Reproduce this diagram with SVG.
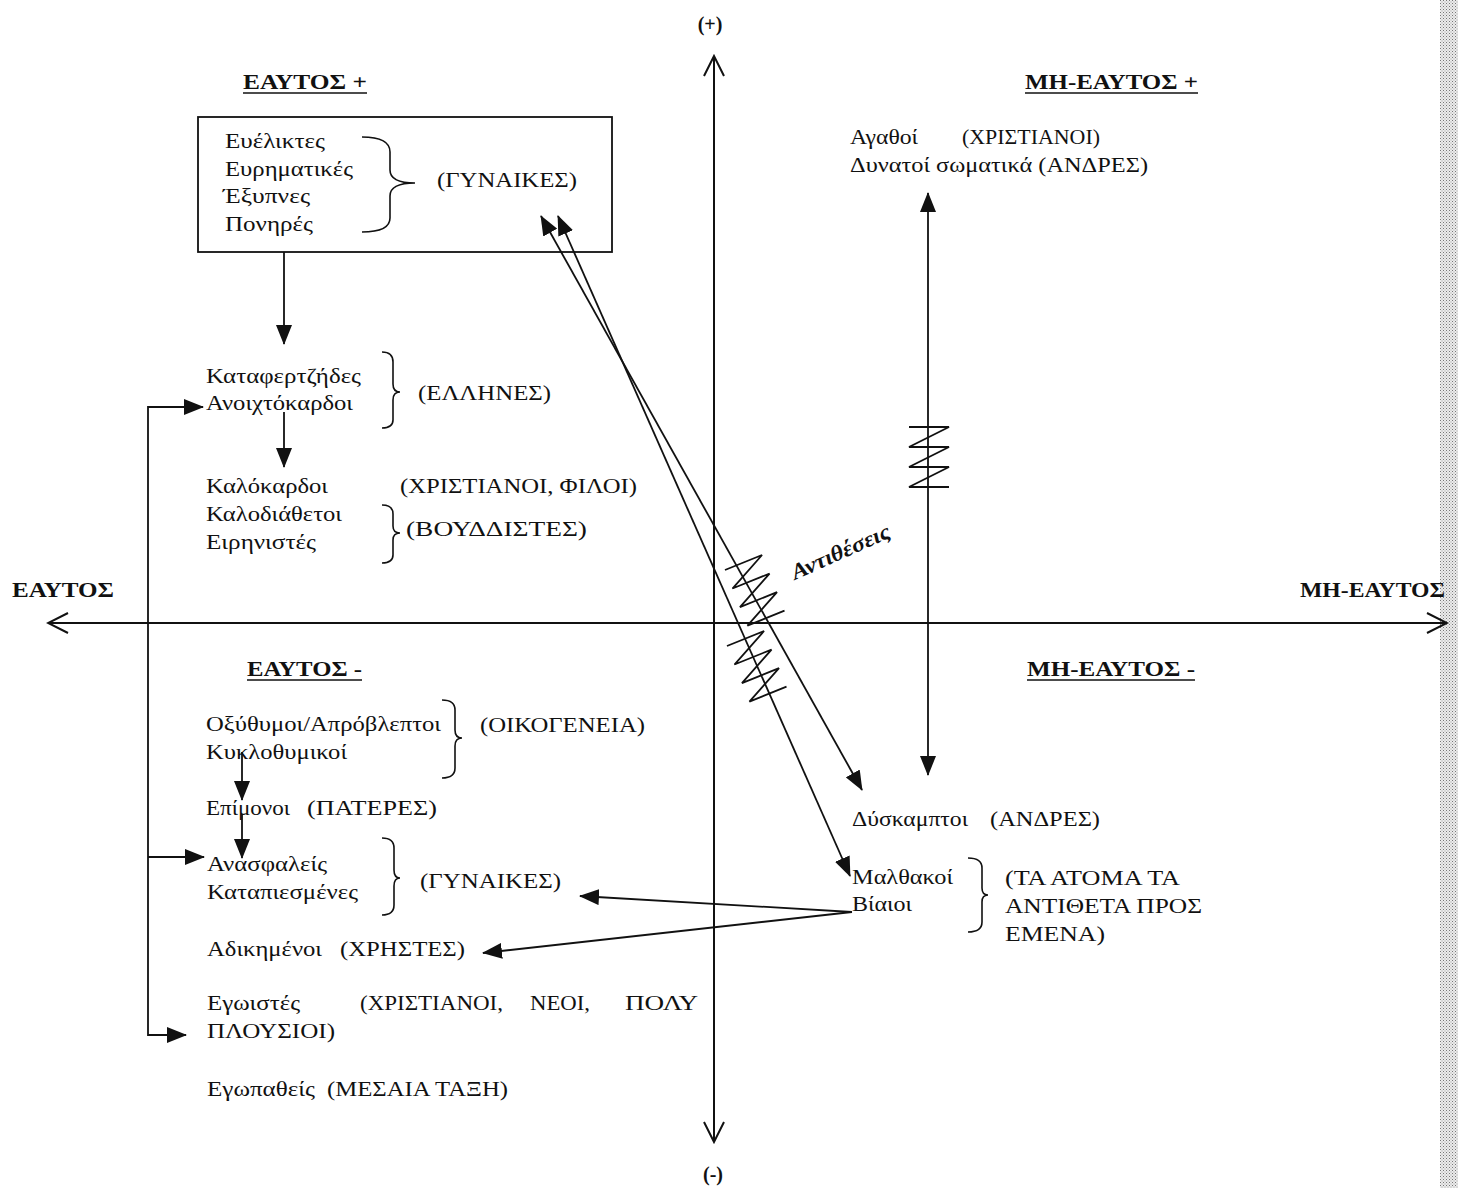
<svg xmlns="http://www.w3.org/2000/svg" width="1458" height="1188" viewBox="0 0 1458 1188">
<style>
.t{font-family:"Liberation Serif","Times New Roman",serif;font-size:20px;fill:#111;}
.b{font-family:"Liberation Serif","Times New Roman",serif;font-size:20px;font-weight:bold;fill:#111;}
.ln{stroke:#111;stroke-width:1.8;fill:none;}
.ax{stroke:#111;stroke-width:2;fill:none;}
.br{stroke:#111;stroke-width:1.6;fill:none;}
.ul{stroke:#111;stroke-width:1.6;}
</style>
<defs>
<marker id="ah" viewBox="0 0 20 16" refX="19" refY="8" markerWidth="20" markerHeight="16" markerUnits="userSpaceOnUse" orient="auto-start-reverse">
<path d="M0,0 L20,8 L0,16 z" fill="#111"/>
</marker>
<marker id="oa" viewBox="0 0 24 24" refX="22" refY="12" markerWidth="24" markerHeight="24" markerUnits="userSpaceOnUse" orient="auto-start-reverse">
<path d="M2,2 L22,12 L2,22" fill="none" stroke="#111" stroke-width="2"/>
</marker>
<pattern id="stip" width="3" height="3" patternUnits="userSpaceOnUse">
<rect x="0" y="0" width="1" height="1" fill="#777"/>
<rect x="1.5" y="1.5" width="1" height="1" fill="#999"/>
</pattern>
<path id="spring" d="M-20,0 H20 L-20,20 H20 L-20,40 H20 L-20,60 H20"/>
</defs>
<rect width="1458" height="1188" fill="#fff"/>
<rect x="1440" y="0" width="18" height="1188" fill="#ececec"/>
<rect x="1440" y="0" width="18" height="1188" fill="url(#stip)"/>

<g id="axes">
<line class="ax" x1="714" y1="1142" x2="714" y2="56" marker-end="url(#oa)" marker-start="url(#oa)"/>
<line class="ax" x1="48" y1="623" x2="1447" y2="623" marker-end="url(#oa)" marker-start="url(#oa)"/>
<text class="b" x="710" y="31" text-anchor="middle">(+)</text>
<text class="b" x="713" y="1181" text-anchor="middle">(-)</text>
<text class="b" x="12" y="597" textLength="102" lengthAdjust="spacingAndGlyphs">ΕΑΥΤΟΣ</text>
<text class="b" x="1300" y="597" textLength="145" lengthAdjust="spacingAndGlyphs">ΜΗ-ΕΑΥΤΟΣ</text>
</g>

<g id="headings">
<text class="b" x="243" y="89" textLength="124" lengthAdjust="spacingAndGlyphs">ΕΑΥΤΟΣ +</text>
<line class="ul" x1="243" y1="93" x2="367" y2="93"/>
<text class="b" x="1025" y="89" textLength="173" lengthAdjust="spacingAndGlyphs">ΜΗ-ΕΑΥΤΟΣ +</text>
<line class="ul" x1="1025" y1="93" x2="1198" y2="93"/>
<text class="b" x="247" y="676" textLength="115" lengthAdjust="spacingAndGlyphs">ΕΑΥΤΟΣ -</text>
<line class="ul" x1="247" y1="680" x2="362" y2="680"/>
<text class="b" x="1027" y="676" textLength="168" lengthAdjust="spacingAndGlyphs">ΜΗ-ΕΑΥΤΟΣ -</text>
<line class="ul" x1="1027" y1="680" x2="1195" y2="680"/>
</g>

<g id="node-box">
<rect x="198" y="117" width="414" height="135" fill="none" stroke="#111" stroke-width="1.8"/>
<text class="t" x="225" y="148" textLength="100" lengthAdjust="spacingAndGlyphs">Ευέλικτες</text>
<text class="t" x="225" y="176" textLength="128" lengthAdjust="spacingAndGlyphs">Ευρηματικές</text>
<text class="t" x="223" y="203" textLength="87" lengthAdjust="spacingAndGlyphs">Έξυπνες</text>
<text class="t" x="225" y="231" textLength="88" lengthAdjust="spacingAndGlyphs">Πονηρές</text>
<path class="br" d="M362,137 Q390,137 390,152 L390,170 Q390,183 415,183 Q390,183 390,196 L390,218 Q390,232 362,232"/>
<text class="t" x="437" y="187" textLength="140" lengthAdjust="spacingAndGlyphs">(ΓΥΝΑΙΚΕΣ)</text>
</g>

<g id="node-ellines">
<text class="t" x="206" y="383" textLength="155" lengthAdjust="spacingAndGlyphs">Καταφερτζήδες</text>
<text class="t" x="206" y="410" textLength="147" lengthAdjust="spacingAndGlyphs">Ανοιχτόκαρδοι</text>
<path class="br" d="M382,352 Q393,352 393,362 L393,384 Q393,392 400,392 Q393,392 393,400 L393,420 Q393,428 382,428"/>
<text class="t" x="418" y="400" textLength="133" lengthAdjust="spacingAndGlyphs">(ΕΛΛΗΝΕΣ)</text>
</g>

<g id="node-kalokardoi">
<text class="t" x="206" y="493" textLength="122" lengthAdjust="spacingAndGlyphs">Καλόκαρδοι</text>
<text class="t" x="400" y="493" textLength="237" lengthAdjust="spacingAndGlyphs">(ΧΡΙΣΤΙΑΝΟΙ, ΦΙΛΟΙ)</text>
<text class="t" x="206" y="521" textLength="136" lengthAdjust="spacingAndGlyphs">Καλοδιάθετοι</text>
<text class="t" x="206" y="549" textLength="110" lengthAdjust="spacingAndGlyphs">Ειρηνιστές</text>
<path class="br" d="M382,505 Q393,505 393,514 L393,526 Q393,533 400,533 Q393,533 393,540 L393,555 Q393,563 382,563"/>
<text class="t" x="406" y="536" textLength="181" lengthAdjust="spacingAndGlyphs">(ΒΟΥΔΔΙΣΤΕΣ)</text>
</g>

<g id="node-oikogeneia">
<text class="t" x="206" y="731" textLength="235" lengthAdjust="spacingAndGlyphs">Οξύθυμοι/Απρόβλεπτοι</text>
<text class="t" x="206" y="759" textLength="141" lengthAdjust="spacingAndGlyphs">Κυκλοθυμικοί</text>
<path class="br" d="M442,700 Q455,700 455,710 L455,730 Q455,738 462,738 Q455,738 455,746 L455,768 Q455,778 442,778"/>
<text class="t" x="480" y="732" textLength="165" lengthAdjust="spacingAndGlyphs">(ΟΙΚΟΓΕΝΕΙΑ)</text>
</g>

<g id="node-epimonoi">
<text class="t" x="206" y="815" textLength="84" lengthAdjust="spacingAndGlyphs">Επίμονοι</text>
<text class="t" x="307" y="815" textLength="130" lengthAdjust="spacingAndGlyphs">(ΠΑΤΕΡΕΣ)</text>
</g>

<g id="node-gynaikes2">
<text class="t" x="207" y="871" textLength="120" lengthAdjust="spacingAndGlyphs">Ανασφαλείς</text>
<text class="t" x="207" y="899" textLength="151" lengthAdjust="spacingAndGlyphs">Καταπιεσμένες</text>
<path class="br" d="M382,838 Q394,838 394,848 L394,870 Q394,878 400,878 Q394,878 394,886 L394,905 Q394,915 382,915"/>
<text class="t" x="420" y="888" textLength="141" lengthAdjust="spacingAndGlyphs">(ΓΥΝΑΙΚΕΣ)</text>
</g>

<g id="node-adikimenoi">
<text class="t" x="207" y="956" textLength="115" lengthAdjust="spacingAndGlyphs">Αδικημένοι</text>
<text class="t" x="340" y="956" textLength="125" lengthAdjust="spacingAndGlyphs">(ΧΡΗΣΤΕΣ)</text>
</g>

<g id="node-egoistes">
<text class="t" x="207" y="1010" textLength="93" lengthAdjust="spacingAndGlyphs">Εγωιστές</text>
<text class="t" x="360" y="1010" textLength="143" lengthAdjust="spacingAndGlyphs">(ΧΡΙΣΤΙΑΝΟΙ,</text>
<text class="t" x="530" y="1010" textLength="60" lengthAdjust="spacingAndGlyphs">ΝΕΟΙ,</text>
<text class="t" x="625" y="1010" textLength="73" lengthAdjust="spacingAndGlyphs">ΠΟΛΥ</text>
<text class="t" x="207" y="1038" textLength="128" lengthAdjust="spacingAndGlyphs">ΠΛΟΥΣΙΟΙ)</text>
</g>

<g id="node-egopatheis">
<text class="t" x="207" y="1096" textLength="108" lengthAdjust="spacingAndGlyphs">Εγωπαθείς</text>
<text class="t" x="327" y="1096" textLength="181" lengthAdjust="spacingAndGlyphs">(ΜΕΣΑΙΑ ΤΑΞΗ)</text>
</g>

<g id="node-agathoi">
<text class="t" x="850" y="144" textLength="68" lengthAdjust="spacingAndGlyphs">Αγαθοί</text>
<text class="t" x="962" y="144" textLength="138" lengthAdjust="spacingAndGlyphs">(ΧΡΙΣΤΙΑΝΟΙ)</text>
<text class="t" x="850" y="172" textLength="298" lengthAdjust="spacingAndGlyphs">Δυνατοί σωματικά (ΑΝΔΡΕΣ)</text>
</g>

<g id="node-dyskamptoi">
<text class="t" x="852" y="826" textLength="116" lengthAdjust="spacingAndGlyphs">Δύσκαμπτοι</text>
<text class="t" x="990" y="826" textLength="110" lengthAdjust="spacingAndGlyphs">(ΑΝΔΡΕΣ)</text>
</g>

<g id="node-malthakoi">
<text class="t" x="852" y="884" textLength="101" lengthAdjust="spacingAndGlyphs">Μαλθακοί</text>
<text class="t" x="852" y="911" textLength="60" lengthAdjust="spacingAndGlyphs">Βίαιοι</text>
<path class="br" d="M968,858 Q982,858 982,868 L982,888 Q982,895 988,895 Q982,895 982,902 L982,922 Q982,932 968,932"/>
<text class="t" x="1005" y="885" textLength="175" lengthAdjust="spacingAndGlyphs">(ΤΑ ΑΤΟΜΑ ΤΑ</text>
<text class="t" x="1005" y="913" textLength="197" lengthAdjust="spacingAndGlyphs">ΑΝΤΙΘΕΤΑ ΠΡΟΣ</text>
<text class="t" x="1005" y="941" textLength="100" lengthAdjust="spacingAndGlyphs">ΕΜΕΝΑ)</text>
</g>

<g id="connectors">
<line class="ln" x1="284" y1="252" x2="284" y2="344" marker-end="url(#ah)"/>
<line class="ln" x1="284" y1="412" x2="284" y2="467" marker-end="url(#ah)"/>
<line class="ln" x1="242" y1="752" x2="242" y2="800" marker-end="url(#ah)"/>
<line class="ln" x1="242" y1="815" x2="242" y2="858" marker-end="url(#ah)"/>
<path class="ln" d="M203,407 H148 V1035 H186" marker-start="url(#ah)" marker-end="url(#ah)"/>
<line class="ln" x1="148" y1="857" x2="204" y2="857" marker-end="url(#ah)"/>
<line class="ln" x1="541" y1="216" x2="862" y2="790" marker-start="url(#ah)" marker-end="url(#ah)"/>
<line class="ln" x1="558" y1="216" x2="850" y2="876" marker-start="url(#ah)" marker-end="url(#ah)"/>
<line class="ln" x1="852" y1="912" x2="580" y2="896" marker-end="url(#ah)"/>
<line class="ln" x1="852" y1="912" x2="483" y2="953" marker-end="url(#ah)"/>
<line class="ln" x1="928" y1="193" x2="928" y2="775" marker-start="url(#ah)" marker-end="url(#ah)"/>
<use href="#spring" class="ln" transform="translate(929,427)"/>
<use href="#spring" class="ln" transform="translate(743.5,562.5) rotate(-22)"/>
<use href="#spring" class="ln" transform="translate(745.5,638.5) rotate(-22)"/>
<text transform="translate(795,580) rotate(-24)" style="font-family:'Liberation Serif','Times New Roman',serif;font-size:22px;font-weight:bold;font-style:italic;fill:#111" textLength="106" lengthAdjust="spacingAndGlyphs">Αντιθέσεις</text>
</g>
</svg>
